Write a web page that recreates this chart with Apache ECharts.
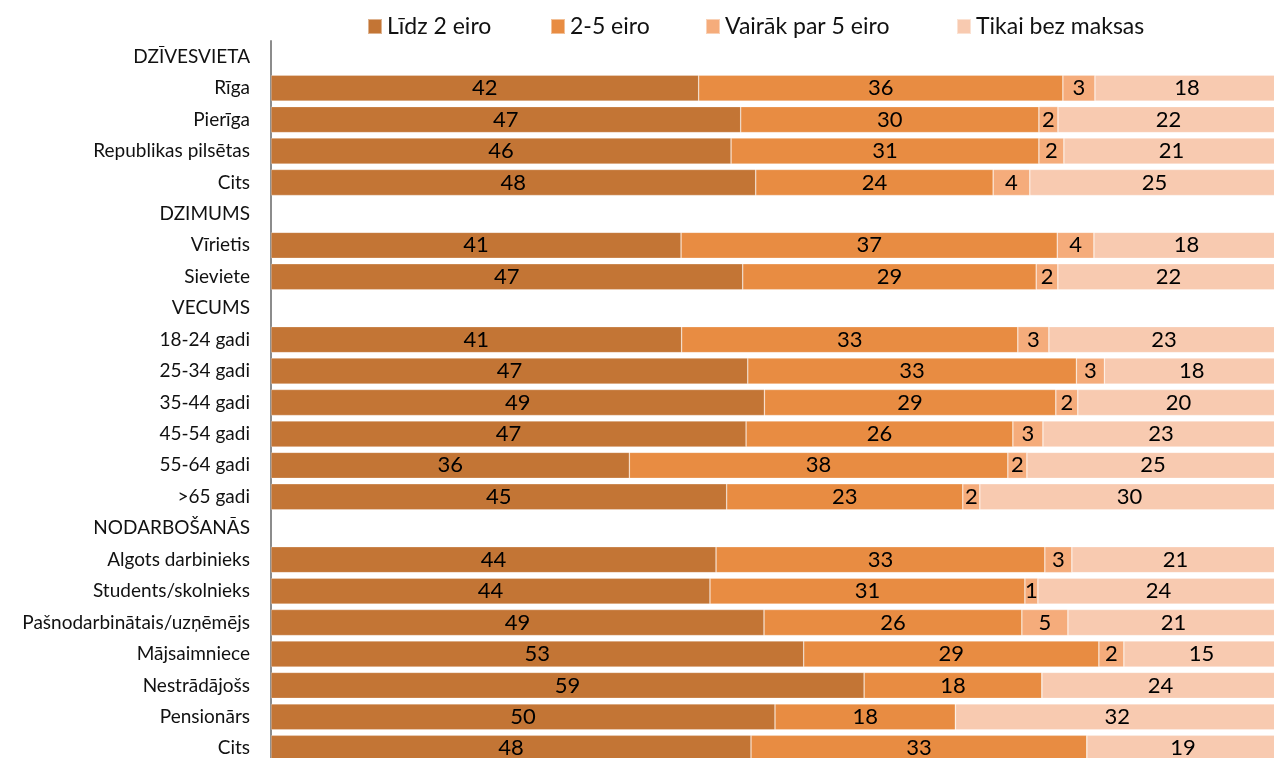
<!DOCTYPE html>
<html>
<head>
<meta charset="utf-8">
<script src="https://cdn.jsdelivr.net/npm/echarts@6/dist/echarts.min.js"></script>
<style>
    html, body { margin: 0; padding: 0; background: #fff; }
    #myChart { width: 1274px; height: 758px; }
</style>
</head>
<body>
<div id="myChart"></div>
<script>
// rindas (virsraksti bez vērtībām)
var categories = [
    'DZĪVESVIETA', 'Rīga', 'Pierīga', 'Republikas pilsētas', 'Cits',
    'DZIMUMS', 'Vīrietis', 'Sieviete',
    'VECUMS', '18-24 gadi', '25-34 gadi', '35-44 gadi', '45-54 gadi', '55-64 gadi', '>65 gadi',
    'NODARBOŠANĀS', 'Algots darbinieks', 'Students/skolnieks', 'Pašnodarbinātais/uzņēmējs',
    'Mājsaimniece', 'Nestrādājošs', 'Pensionārs', 'Cits'
];
var seriesNames = ['Līdz 2 eiro', '2-5 eiro', 'Vairāk par 5 eiro', 'Tikai bez maksas'];
var colors = ['#C37535', '#E88C42', '#F5AC7B', '#F8CAB0'];

// procenti, nolasīti no attēla
var lidz2 = [null, 42.43, 46.6, 45.64, 48.09, null, 40.68, 46.8, null, 40.74, 47.3, 48.95, 47.13, 35.55, 45.21,
    null, 44.15, 43.55, 48.91, 52.85, 58.84, 50.0, 47.62];
var no2lidz5 = [null, 36.13, 29.58, 30.54, 23.55, null, 37.32, 29.11, null, 33.35, 32.6, 28.91, 26.47, 37.55, 23.42,
    null, 32.62, 31.24, 25.58, 29.28, 17.64, 17.9, 33.32];
var virs5 = [null, 3.18, 1.89, 2.48, 3.64, null, 3.64, 2.15, null, 3.08, 2.78, 2.18, 2.98, 1.89, 1.69,
    null, 2.68, 1.29, 4.57, 2.48, 0, 0, 0];
var bezMaksas = [null, 18.26, 21.93, 21.34, 24.72, null, 18.36, 21.94, null, 22.83, 17.6, 19.96, 23.42, 25.01, 29.68,
    null, 20.55, 23.92, 20.94, 15.39, 23.52, 32.1, 19.06];

var allData = [lidz2, no2lidz5, virs5, bezMaksas];
var fontName = 'Lato';

var myChart = echarts.init(document.getElementById('myChart'));

var legendLeft = [362, 545, 700, 951];
var legends = [];
var series = [];
for (var i = 0; i < seriesNames.length; i++) {
    legends.push({
        left: legendLeft[i],
        top: 10,
        data: [seriesNames[i]],
        icon: 'rect',
        itemWidth: 14,
        itemHeight: 15,
        itemGap: 0,
        itemTextGap: 7,
        textStyle: { fontFamily: fontName, fontSize: 23, color: '#111' }
    });
    series.push({
        name: seriesNames[i],
        type: 'bar',
        stack: 'total',
        barWidth: 26,
        data: allData[i],
        itemStyle: {
            color: colors[i],
            borderColor: 'rgba(255,255,255,0.45)',
            borderWidth: 0.6
        },
        label: {
            show: true,
            position: 'inside',
            fontFamily: fontName,
            fontSize: 22,
            color: '#000',
            formatter: function (p) {
                return p.value ? Math.round(p.value) : '';
            }
        },
        emphasis: { disabled: true }
    });
}

var option = {
    animation: false,
    color: colors,
    legend: legends,
    grid: {
        left: 271,
        top: 41,
        width: 1008,
        height: 723,
        containLabel: false,
        outerBoundsMode: 'none'
    },
    xAxis: {
        type: 'value',
        min: 0,
        max: 100,
        show: false
    },
    yAxis: {
        type: 'category',
        inverse: true,
        data: categories,
        axisLine: { show: true, lineStyle: { color: '#8c8c8c', width: 2 } },
        axisTick: { show: false },
        axisLabel: {
            margin: 21,
            fontFamily: fontName,
            fontSize: 19,
            color: '#111'
        }
    },
    series: series
};
myChart.setOption(option);
</script>
</body>
</html>
